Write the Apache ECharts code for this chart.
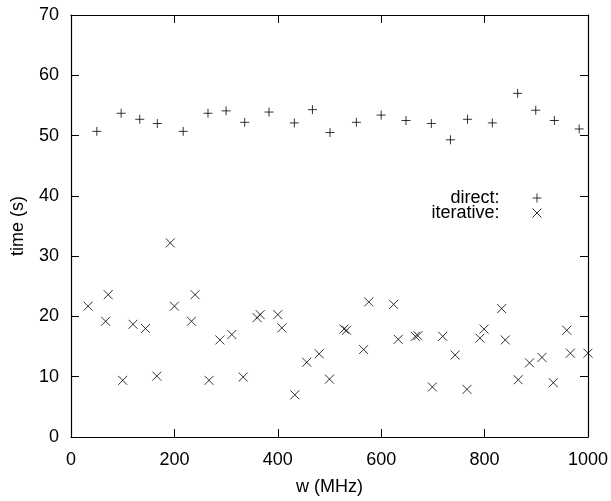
<!DOCTYPE html>
<html>
<head>
<meta charset="utf-8">
<script src="https://cdn.jsdelivr.net/npm/echarts@6/dist/echarts.min.js"></script>
<style>html,body{margin:0;padding:0;background:#fff}#c{width:611px;height:501px}</style>
</head>
<body>
<div id="c"></div>
<script>
var directW = [50, 97, 133, 167, 217, 265, 300, 336, 383, 432, 467, 501, 552, 600, 648, 697, 734, 767, 815, 864, 899, 935, 983];
var directT = [50.7, 53.7, 52.7, 52.0, 50.7, 53.7, 54.1, 52.2, 53.9, 52.1, 54.3, 50.5, 52.2, 53.4, 52.5, 52.0, 49.3, 52.7, 52.1, 57.0, 54.2, 52.5, 51.1];
var iterW = [33, 67, 72, 100, 120, 144, 166, 192, 200, 233, 240, 267, 288, 311, 333, 360, 366, 400, 408, 433, 456, 480, 500, 528, 533, 566, 576, 624, 633, 666, 671, 699, 719, 743, 766, 791, 799, 833, 840, 865, 887, 911, 933, 959, 966, 1000];
var iterT = [21.7, 19.2, 23.6, 9.4, 18.7, 18.0, 10.1, 32.2, 21.7, 19.2, 23.6, 9.4, 16.1, 17.0, 9.95, 19.8, 20.3, 20.3, 18.1, 7.0, 12.4, 13.8, 9.6, 17.9, 17.7, 14.5, 22.4, 22.0, 16.2, 16.7, 16.8, 8.3, 16.7, 13.6, 7.9, 16.4, 17.9, 21.3, 16.1, 9.5, 12.3, 13.2, 9.0, 17.7, 13.9, 13.9];
var xTicks = [0, 200, 400, 600, 800, 1000];
var yTicks = [0, 10, 20, 30, 40, 50, 60, 70];
var seriesNames = ['direct:', 'iterative:'];

var FONT = '"Liberation Sans", Arial, Helvetica, sans-serif';
var PLUS = 'path://M5,0L5,10M0,5L10,5';
var CROSS = 'path://M0,0L10,10M10,0L0,10';

function zip(a, b) { return a.map(function (v, i) { return [v, b[i]]; }); }
function plain(v) { return String(v); }

var axisCommon = {
  type: 'value',
  axisLine: { show: true, onZero: false, lineStyle: { color: '#000', width: 1.2 } },
  axisTick: { show: true, inside: true, length: 8, lineStyle: { color: '#000', width: 1 } },
  splitLine: { show: false },
  axisLabel: { color: '#000', fontFamily: FONT, fontSize: 18, formatter: plain },
  nameTextStyle: { color: '#000', fontFamily: FONT, fontSize: 18 }
};

var chart = echarts.init(document.getElementById('c'), null, { renderer: 'canvas' });
chart.setOption({
  backgroundColor: '#fff',
  animation: false,
  grid: { left: 71, right: 20, top: 15, bottom: 61, containLabel: false },
  xAxis: [
    Object.assign({}, axisCommon, {
      position: 'bottom', min: xTicks[0], max: xTicks[xTicks.length - 1], interval: 200,
      name: 'w (MHz)', nameLocation: 'middle', nameGap: 41,
      axisLabel: Object.assign({}, axisCommon.axisLabel, { margin: 14 })
    }),
    Object.assign({}, axisCommon, {
      position: 'top', min: xTicks[0], max: xTicks[xTicks.length - 1], interval: 200,
      axisLabel: { show: false }
    })
  ],
  yAxis: [
    Object.assign({}, axisCommon, {
      position: 'left', min: yTicks[0], max: yTicks[yTicks.length - 1], interval: 10,
      name: 'time (s)', nameLocation: 'middle', nameGap: 44,
      axisLabel: Object.assign({}, axisCommon.axisLabel, { margin: 12 })
    }),
    Object.assign({}, axisCommon, {
      position: 'right', min: yTicks[0], max: yTicks[yTicks.length - 1], interval: 10,
      axisLabel: { show: false }
    })
  ],
  legend: [
    {
      data: [{ name: seriesNames[0], icon: PLUS }],
      right: 64, top: 184, orient: 'vertical', align: 'right',
      itemWidth: 9, itemHeight: 9,
      itemStyle: { color: 'transparent', borderColor: '#000', borderWidth: 1 },
      textStyle: { color: '#000', fontFamily: FONT, fontSize: 18, padding: [0, 28, 0, 0] }
    },
    {
      data: [{ name: seriesNames[1], icon: CROSS }],
      right: 64, top: 199, orient: 'vertical', align: 'right',
      itemWidth: 9, itemHeight: 9,
      itemStyle: { color: 'transparent', borderColor: '#000', borderWidth: 1 },
      textStyle: { color: '#000', fontFamily: FONT, fontSize: 18, padding: [0, 28, 0, 0] }
    }
  ],
  series: [
    {
      name: seriesNames[0], type: 'scatter', symbol: PLUS, symbolSize: 9,
      itemStyle: { color: 'transparent', borderColor: '#000', borderWidth: 1 },
      data: zip(directW, directT)
    },
    {
      name: seriesNames[1], type: 'scatter', symbol: CROSS, symbolSize: 9,
      itemStyle: { color: 'transparent', borderColor: '#000', borderWidth: 1 },
      data: zip(iterW, iterT)
    }
  ]
});
</script>
</body>
</html>
